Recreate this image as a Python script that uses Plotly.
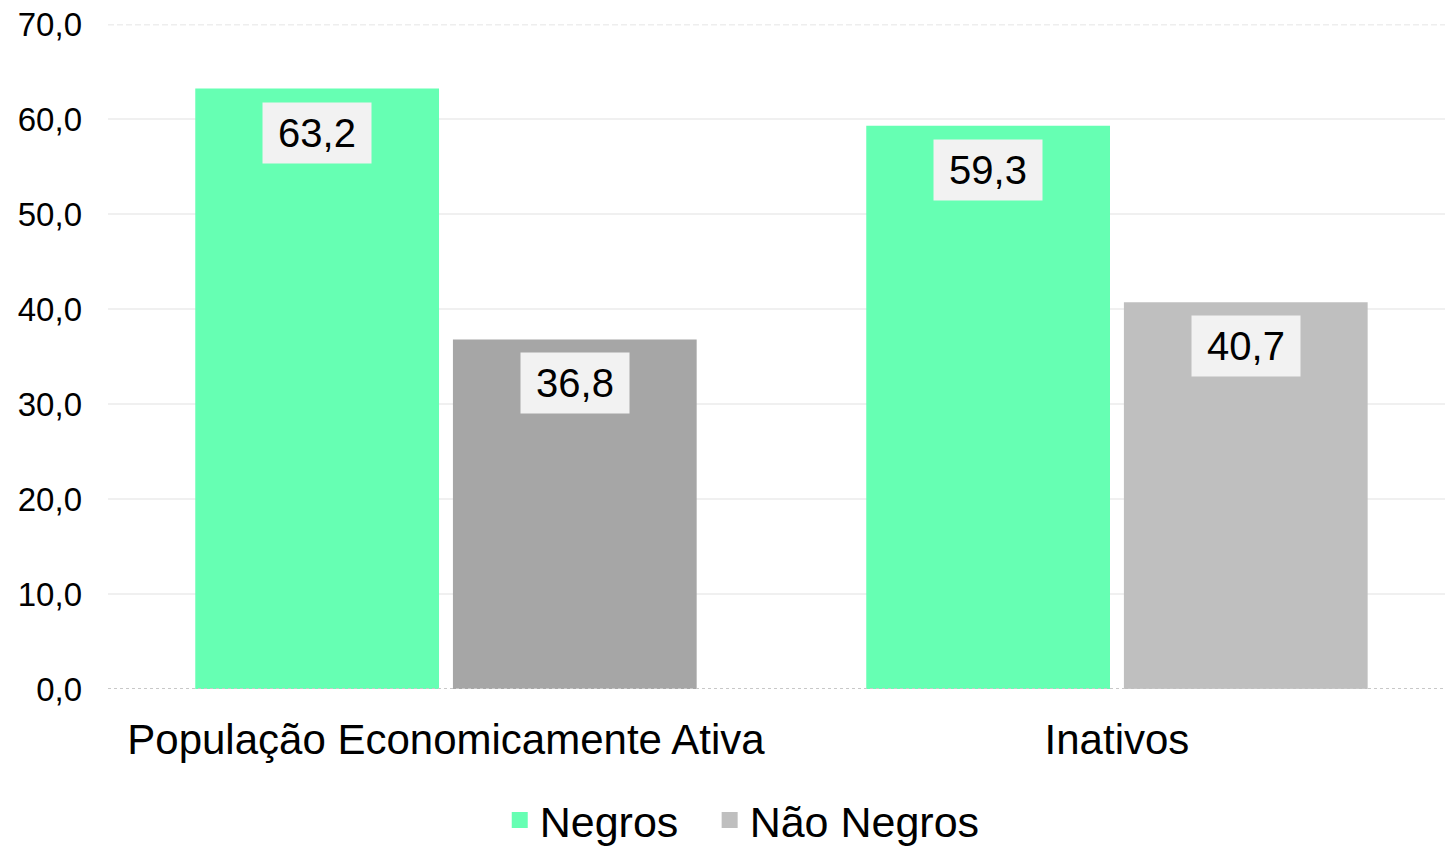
import plotly.graph_objects as go

categories = ["População Economicamente Ativa", "Inativos"]
negros = [63.2, 59.3]
nao_negros = [36.8, 40.7]
series_names = ["Negros", "Não Negros"]
y_ticks = [0, 10, 20, 30, 40, 50, 60, 70]

GREEN = "#66FFB3"
GREY1 = "#A6A6A6"
GREY2 = "#BFBFBF"
FONT = "Liberation Sans, Arial, sans-serif"

fig = go.Figure()
fig.add_trace(go.Bar(x=categories, y=negros, name=series_names[0],
                     marker=dict(color=GREEN, line=dict(width=0)), showlegend=False))
fig.add_trace(go.Bar(x=categories, y=nao_negros, name=series_names[1],
                     marker=dict(color=[GREY1, GREY2], line=dict(width=0)),
                     showlegend=False))
# legend-only entries (square swatches), each in its own legend box
for nm, col, lg in zip(series_names, [GREEN, GREY2], ["legend", "legend2"]):
    fig.add_trace(go.Scatter(x=[None], y=[None], mode="markers", name=nm,
                             legend=lg,
                             marker=dict(symbol="square", size=20, color=col)))

slot = 0.192
for i, cat in enumerate(categories):
    for val, off in ((negros[i], -slot), (nao_negros[i], slot)):
        fig.add_annotation(x=i + off, y=val, xref="x", yref="y",
                           text=f"{val:.1f}".replace(".", ","),
                           showarrow=False, yanchor="top", yshift=-13,
                           bgcolor="#F2F2F2", width=108, height=60, borderpad=0,
                           font=dict(family=FONT, size=40, color="#000000"))

# dashed top border line and dotted baseline
fig.add_shape(type="line", xref="paper", yref="y", x0=0, x1=1, y0=70, y1=70,
              line=dict(color="#EEEEEE", width=3, dash="6px,3px"), layer="above")
fig.add_shape(type="line", xref="paper", yref="y", x0=0, x1=1, y0=0, y1=0,
              line=dict(color="#C8C8C8", width=2, dash="3px,3px"), layer="above")

legend_common = dict(orientation="h", yanchor="top", y=-0.145,
                     font=dict(size=43, family=FONT), itemwidth=30,
                     bgcolor="rgba(0,0,0,0)")

fig.update_layout(
    width=1445, height=847,
    margin=dict(l=108, r=0, t=24, b=158, autoexpand=False),
    paper_bgcolor="white", plot_bgcolor="white",
    barmode="group", bargap=0.232, bargroupgap=0.054,
    font=dict(family=FONT, color="#000000"),
    xaxis=dict(type="category", range=[-0.5037, 1.4889], showgrid=False,
               showline=False, ticks="", automargin=False, ticklabelstandoff=22,
               tickfont=dict(size=42, family=FONT)),
    yaxis=dict(range=[0, 70], tickvals=y_ticks, tickformat=".1f",
               showgrid=True, gridcolor="#F0F0F0", gridwidth=2, automargin=False,
               zeroline=False, showline=False, ticks="", ticklabelstandoff=25,
               ticklabeloverflow="allow",
               tickfont=dict(size=33, family=FONT)),
    separators=",.",
    legend=dict(x=0.293, xanchor="left", **legend_common),
    legend2=dict(x=0.450, xanchor="left", **legend_common),
    showlegend=True,
)

fig.write_html("out.html",
               config={"displayModeBar": False},
               post_script="document.body.style.margin='0';document.body.style.overflow='hidden';")
